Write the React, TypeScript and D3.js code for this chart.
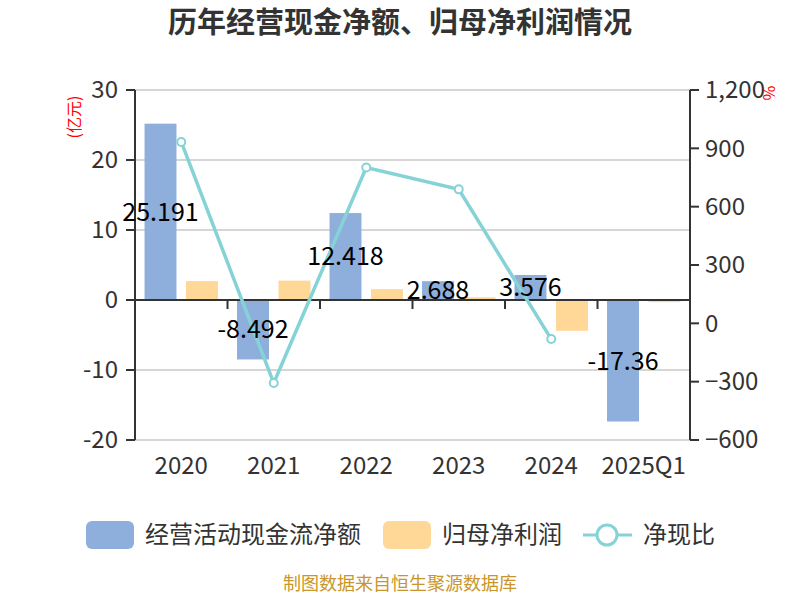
import React from "react";
import * as d3 from "d3";

// values
const categories = ["2020", "2021", "2022", "2023", "2024", "2025Q1"];
const cashFlow = [25.191, -8.492, 12.418, 2.688, 3.576, -17.36];
const netProfit = [2.7, 2.77, 1.55, 0.39, -4.4, -0.3];
const cashRatio: (number | null)[] = [933, -307, 801, 689, -81, null];
const leftTicks = [30, 20, 10, 0, -10, -20];
const rightTicks = [1200, 900, 600, 300, 0, -300, -600];

const FONT = "'Noto Sans CJK SC', 'Noto Sans', sans-serif";
const BLUE = "#8eaedb";
const ORANGE = "#ffd796";
const TEAL = "#86d3d7";
const AXIS = "#333";

export default function App() {
  const margin = { left: 135, right: 110, top: 90, bottom: 160 };
  const width = 800;
  const height = 600;

  const x = d3
    .scaleBand<string>()
    .domain(categories)
    .range([margin.left, width - margin.right])
    .padding(0);
  const sub = d3
    .scaleBand<string>()
    .domain(["cf", "np"])
    .range([0, x.bandwidth()])
    .paddingInner(0.23)
    .paddingOuter(0.23);
  const yL = d3.scaleLinear().domain([-20, 30]).range([height - margin.bottom, margin.top]);
  const yR = d3.scaleLinear().domain([-600, 1200]).range([height - margin.bottom, margin.top]);

  const x0 = margin.left;
  const x1 = width - margin.right;

  const linePts = categories
    .map((c, i) => ({ c, v: cashRatio[i] }))
    .filter((d) => d.v !== null) as { c: string; v: number }[];
  const line = d3
    .line<{ c: string; v: number }>()
    .x((d) => (x(d.c) as number) + x.bandwidth() / 2)
    .y((d) => yR(d.v));

  const fmtR = d3.format(",");

  return (
    <svg
      width={width}
      height={height}
      style={{ position: "absolute", left: 0, top: 0, background: "#fff" }}
      fontFamily={FONT}
    >
      <text x={400} y={33} textAnchor="middle" fontSize={29} fontWeight="bold" fill={AXIS}>
        历年经营现金净额、归母净利润情况
      </text>

      {/* grid */}
      {leftTicks
        .filter((t) => t !== 0)
        .map((t) => (
          <line key={"g" + t} x1={x0} x2={x1} y1={yL(t)} y2={yL(t)} stroke="#c8c8c8" strokeWidth={1.5} />
        ))}

      {/* bars */}
      {categories.map((c, i) => {
        const bx = x(c) as number;
        const cf = cashFlow[i];
        const np = netProfit[i];
        return (
          <g key={c}>
            <rect
              x={bx + (sub("cf") as number)}
              width={sub.bandwidth()}
              y={Math.min(yL(cf), yL(0))}
              height={Math.abs(yL(cf) - yL(0))}
              fill={BLUE}
            />
            <rect
              x={bx + (sub("np") as number)}
              width={sub.bandwidth()}
              y={Math.min(yL(np), yL(0))}
              height={Math.abs(yL(np) - yL(0))}
              fill={ORANGE}
            />
          </g>
        );
      })}

      {/* left axis */}
      <line x1={x0} x2={x0} y1={yL(30)} y2={yL(-20)} stroke={AXIS} strokeWidth={2} />
      {leftTicks.map((t) => (
        <g key={"l" + t}>
          <line x1={x0 - 9} x2={x0} y1={yL(t)} y2={yL(t)} stroke={AXIS} strokeWidth={2} />
          <text x={x0 - 17} y={yL(t)} dy="0.35em" textAnchor="end" fontSize={24} fill={AXIS}>
            {t}
          </text>
        </g>
      ))}
      <text
        transform={`translate(74,${yL(30) + 27}) rotate(-90)`}
        textAnchor="middle"
        dy="0.35em"
        fontSize={16}
        fill="red"
      >
        (亿元)
      </text>

      {/* right axis */}
      <line x1={x1} x2={x1} y1={yR(1200)} y2={yR(-600)} stroke={AXIS} strokeWidth={2} />
      {rightTicks.map((t) => (
        <g key={"r" + t}>
          <line x1={x1} x2={x1 + 9} y1={yR(t)} y2={yR(t)} stroke={AXIS} strokeWidth={2} />
          <text x={x1 + 15} y={yR(t)} dy="0.35em" textAnchor="start" fontSize={24} fill={AXIS}>
            {fmtR(t)}
          </text>
        </g>
      ))}
      <text
        transform={`translate(769,${yR(1200) + 3}) rotate(90)`}
        textAnchor="middle"
        dy="0.35em"
        fontSize={16}
        fill="red"
      >
        %
      </text>

      {/* x axis at zero */}
      <line x1={x0} x2={x1} y1={yL(0)} y2={yL(0)} stroke={AXIS} strokeWidth={2} />
      {categories.map((c, i) =>
        i === 0 ? null : (
          <line
            key={"t" + c}
            x1={x(c) as number}
            x2={x(c) as number}
            y1={yL(0)}
            y2={yL(0) + 9}
            stroke={AXIS}
            strokeWidth={2}
          />
        )
      )}
      {categories.map((c) => (
        <text
          key={"c" + c}
          x={(x(c) as number) + x.bandwidth() / 2}
          y={yL(-20) + 26}
          dy="0.35em"
          textAnchor="middle"
          fontSize={24}
          fill={AXIS}
        >
          {c}
        </text>
      ))}

      {/* line */}
      <path d={line(linePts) || ""} fill="none" stroke={TEAL} strokeWidth={3.5} />
      {linePts.map((d) => (
        <circle
          key={"p" + d.c}
          cx={(x(d.c) as number) + x.bandwidth() / 2}
          cy={yR(d.v)}
          r={4}
          fill="#fff"
          stroke={TEAL}
          strokeWidth={2}
        />
      ))}

      {/* bar labels */}
      {categories.map((c, i) => (
        <text
          key={"v" + c}
          x={(x(c) as number) + (sub("cf") as number) + sub.bandwidth() / 2}
          y={(yL(cashFlow[i]) + yL(0)) / 2}
          dy="0.35em"
          textAnchor="middle"
          fontSize={25}
          fill="#000"
        >
          {cashFlow[i]}
        </text>
      ))}

      {/* legend */}
      <rect x={86} y={521} width={48} height={28} rx={6} fill={BLUE} />
      <text x={145} y={535} dy="0.35em" fontSize={24} fill={AXIS}>
        经营活动现金流净额
      </text>
      <rect x={383} y={521} width={48} height={28} rx={6} fill={ORANGE} />
      <text x={442} y={535} dy="0.35em" fontSize={24} fill={AXIS}>
        归母净利润
      </text>
      <line x1={583} x2={632} y1={535} y2={535} stroke={TEAL} strokeWidth={3} />
      <circle cx={607} cy={535} r={10} fill="#fff" stroke={TEAL} strokeWidth={3} />
      <text x={643} y={535} dy="0.35em" fontSize={24} fill={AXIS}>
        净现比
      </text>

      <text x={400} y={590} textAnchor="middle" fontSize={18} fill="#c9962b">
        制图数据来自恒生聚源数据库
      </text>
    </svg>
  );
}
